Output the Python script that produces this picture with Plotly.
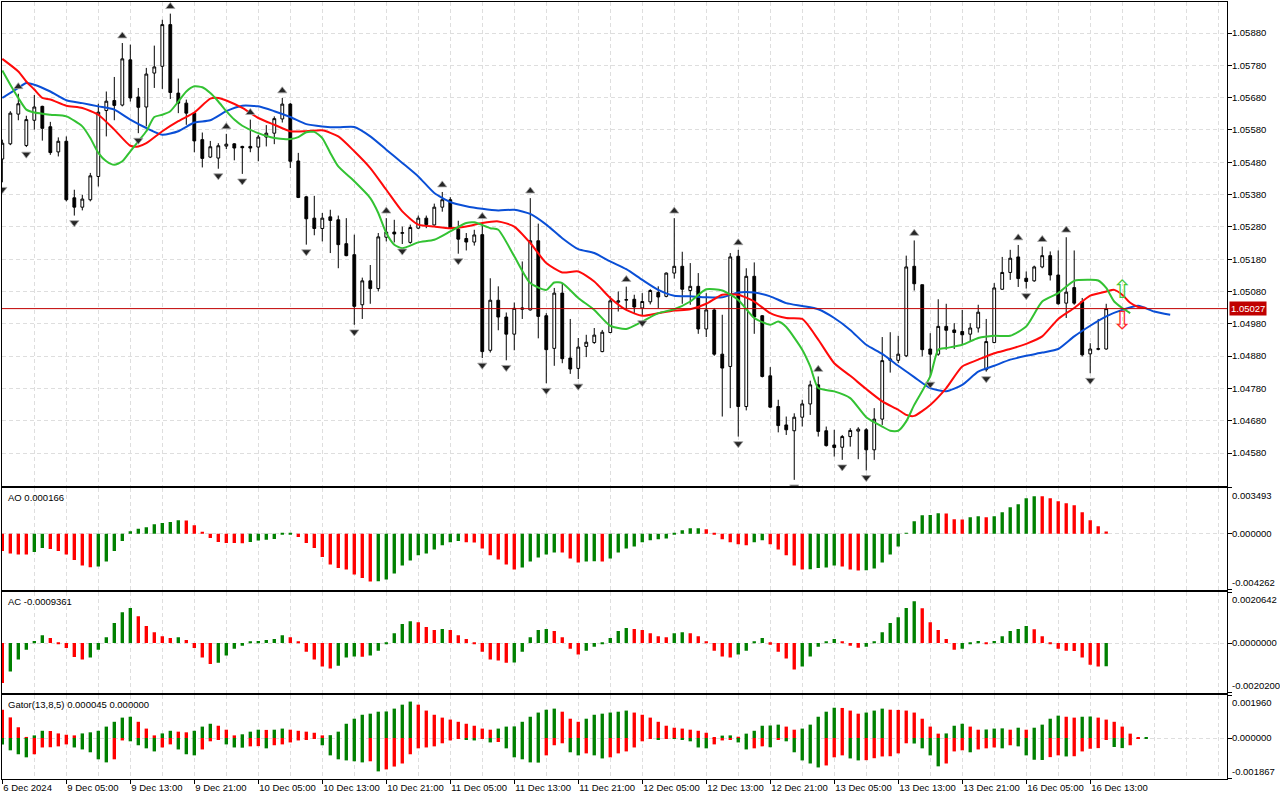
import plotly.graph_objects as go
from plotly.subplots import make_subplots

# ---- EURUSD H1, bars 0..138 (6 Dec 21:00 .. 16 Dec) ----
open_ = [
    1.05490, 1.05537, 1.05629, 1.05532, 1.05610, 1.05653, 1.05590, 1.05512, 1.05545, 1.05370,
    1.05341, 1.05364, 1.05436, 1.05640, 1.05671, 1.05657, 1.05797, 1.05682, 1.05651, 1.05756,
    1.05777, 1.05906, 1.05694, 1.05663, 1.05632, 1.05550, 1.05496, 1.05493, 1.05530, 1.05537,
    1.05529, 1.05529, 1.05527, 1.05558, 1.05570, 1.05614, 1.05660, 1.05484, 1.05373, 1.05307,
    1.05275, 1.05311, 1.05302, 1.05228, 1.05194, 1.05039, 1.05113, 1.05089, 1.05248, 1.05264,
    1.05260, 1.05232, 1.05276, 1.05307, 1.05286, 1.05341, 1.05364, 1.05273, 1.05244, 1.05233,
    1.05256, 1.04898, 1.05053, 1.05001, 1.04948, 1.05025, 1.05023, 1.05237, 1.05005, 1.04904,
    1.05075, 1.04874, 1.04842, 1.04910, 1.04922, 1.04894, 1.04953, 1.05047, 1.05053, 1.05056,
    1.05029, 1.05048, 1.05077, 1.05065, 1.05137, 1.05158, 1.05083, 1.05096, 1.04964, 1.05023,
    1.04886, 1.04848, 1.05189, 1.04724, 1.05127, 1.05005, 1.04819, 1.04724, 1.04667, 1.04649,
    1.04691, 1.04732, 1.04791, 1.04649, 1.04605, 1.04598, 1.04631, 1.04648, 1.04652, 1.04590,
    1.04685, 1.04867, 1.04867, 1.04881, 1.05158, 1.05101, 1.04902, 1.04886, 1.04972, 1.04961,
    1.04956, 1.04948, 1.04967, 1.04838, 1.04922, 1.05087, 1.05139, 1.05187, 1.05121, 1.05113,
    1.05156, 1.05191, 1.05131, 1.05044, 1.05092, 1.05049, 1.04887, 1.04901, 1.04902,
]
high = [
    1.05550, 1.05638, 1.05692, 1.05624, 1.05688, 1.05655, 1.05605, 1.05557, 1.05560, 1.05395,
    1.05379, 1.05447, 1.05661, 1.05699, 1.05744, 1.05849, 1.05844, 1.05710, 1.05772, 1.05841,
    1.05921, 1.05940, 1.05739, 1.05674, 1.05634, 1.05572, 1.05546, 1.05539, 1.05568, 1.05539,
    1.05531, 1.05612, 1.05565, 1.05595, 1.05622, 1.05679, 1.05663, 1.05509, 1.05376, 1.05376,
    1.05323, 1.05333, 1.05315, 1.05307, 1.05256, 1.05123, 1.05162, 1.05261, 1.05307, 1.05302,
    1.05281, 1.05287, 1.05315, 1.05315, 1.05352, 1.05388, 1.05372, 1.05299, 1.05261, 1.05271,
    1.05290, 1.05121, 1.05096, 1.05015, 1.05046, 1.05173, 1.05369, 1.05290, 1.05013, 1.05091,
    1.05106, 1.04995, 1.04936, 1.04946, 1.04967, 1.04961, 1.05065, 1.05080, 1.05095, 1.05070,
    1.05075, 1.05087, 1.05096, 1.05139, 1.05307, 1.05203, 1.05168, 1.05137, 1.05075, 1.05029,
    1.05008, 1.05199, 1.05209, 1.05152, 1.05170, 1.05007, 1.04846, 1.04745, 1.04693, 1.04703,
    1.04745, 1.04804, 1.04817, 1.04662, 1.04652, 1.04636, 1.04657, 1.04660, 1.04657, 1.04719,
    1.04939, 1.04954, 1.04943, 1.05191, 1.05238, 1.05101, 1.04951, 1.05056, 1.05042, 1.04982,
    1.05023, 1.04982, 1.05039, 1.04995, 1.05106, 1.05187, 1.05209, 1.05224, 1.05142, 1.05160,
    1.05219, 1.05204, 1.05207, 1.05248, 1.05207, 1.05060, 1.04920, 1.04995, 1.05042,
]
low = [
    1.05418, 1.05533, 1.05610, 1.05527, 1.05581, 1.05547, 1.05503, 1.05498, 1.05359, 1.05315,
    1.05331, 1.05359, 1.05405, 1.05560, 1.05610, 1.05653, 1.05668, 1.05570, 1.05591, 1.05710,
    1.05707, 1.05676, 1.05632, 1.05596, 1.05511, 1.05464, 1.05493, 1.05460, 1.05521, 1.05486,
    1.05444, 1.05511, 1.05483, 1.05529, 1.05536, 1.05603, 1.05462, 1.05369, 1.05225, 1.05254,
    1.05235, 1.05199, 1.05152, 1.05189, 1.04977, 1.04995, 1.05042, 1.05080, 1.05235, 1.05232,
    1.05227, 1.05228, 1.05274, 1.05276, 1.05284, 1.05327, 1.05273, 1.05197, 1.05207, 1.05222,
    1.04874, 1.04891, 1.04960, 1.04867, 1.04898, 1.04995, 1.05021, 1.04935, 1.04796, 1.04850,
    1.04858, 1.04825, 1.04809, 1.04877, 1.04918, 1.04892, 1.04951, 1.05018, 1.05023, 1.05013,
    1.05005, 1.05040, 1.05029, 1.05062, 1.05120, 1.05042, 1.05039, 1.04949, 1.04939, 1.04881,
    1.04693, 1.04719, 1.04631, 1.04712, 1.04949, 1.04814, 1.04720, 1.04644, 1.04636, 1.04497,
    1.04662, 1.04698, 1.04631, 1.04600, 1.04569, 1.04559, 1.04600, 1.04561, 1.04526, 1.04559,
    1.04667, 1.04829, 1.04858, 1.04877, 1.05083, 1.04879, 1.04815, 1.04881, 1.04900, 1.04902,
    1.04915, 1.04925, 1.04953, 1.04832, 1.04920, 1.05085, 1.05116, 1.05094, 1.05089, 1.05110,
    1.05152, 1.05114, 1.05039, 1.04998, 1.05039, 1.04879, 1.04827, 1.04898, 1.04900,
]
close = [
    1.05539, 1.05632, 1.05661, 1.05612, 1.05651, 1.05585, 1.05510, 1.05545, 1.05364, 1.05341,
    1.05366, 1.05438, 1.05635, 1.05669, 1.05656, 1.05800, 1.05679, 1.05650, 1.05753, 1.05775,
    1.05906, 1.05696, 1.05663, 1.05632, 1.05546, 1.05492, 1.05528, 1.05531, 1.05536, 1.05524,
    1.05525, 1.05524, 1.05558, 1.05570, 1.05615, 1.05660, 1.05483, 1.05371, 1.05305, 1.05275,
    1.05307, 1.05300, 1.05225, 1.05191, 1.05034, 1.05113, 1.05089, 1.05249, 1.05264, 1.05258,
    1.05262, 1.05278, 1.05307, 1.05287, 1.05341, 1.05364, 1.05276, 1.05242, 1.05233, 1.05255,
    1.04894, 1.05053, 1.05001, 1.04948, 1.05028, 1.05029, 1.05237, 1.05003, 1.04900, 1.05075,
    1.04872, 1.04840, 1.04908, 1.04923, 1.04945, 1.04954, 1.05051, 1.05051, 1.05055, 1.05032,
    1.05049, 1.05083, 1.05063, 1.05137, 1.05158, 1.05087, 1.05096, 1.04964, 1.05023, 1.04886,
    1.04843, 1.05187, 1.04724, 1.05127, 1.05001, 1.04817, 1.04722, 1.04665, 1.04652, 1.04691,
    1.04732, 1.04791, 1.04647, 1.04603, 1.04597, 1.04631, 1.04650, 1.04654, 1.04590, 1.04685,
    1.04866, 1.04871, 1.04886, 1.05156, 1.05104, 1.04900, 1.04886, 1.04972, 1.04960, 1.04953,
    1.04946, 1.04967, 1.05016, 1.04925, 1.05091, 1.05139, 1.05183, 1.05120, 1.05111, 1.05156,
    1.05191, 1.05131, 1.05042, 1.05078, 1.05044, 1.04884, 1.04902, 1.04903, 1.05027,
]

time_labels = [
    "6 Dec 2024", "9 Dec 05:00", "9 Dec 13:00", "9 Dec 21:00", "10 Dec 05:00",
    "10 Dec 13:00", "10 Dec 21:00", "11 Dec 05:00", "11 Dec 13:00", "11 Dec 21:00",
    "12 Dec 05:00", "12 Dec 13:00", "12 Dec 21:00", "13 Dec 05:00", "13 Dec 13:00",
    "13 Dec 21:00", "16 Dec 05:00", "16 Dec 13:00",
]
price_ticks = [1.04580, 1.04680, 1.04780, 1.04880, 1.04980, 1.05080, 1.05180,
               1.05280, 1.05380, 1.05480, 1.05580, 1.05680, 1.05780, 1.05880]
last_price = 1.05027

# Alligator (shifted lines, read every couple of bars)
jaw_x = [0, 2, 3, 4, 6, 8, 10, 12, 14, 16, 18, 20, 22, 24, 26, 28, 30, 32, 34, 36, 38, 40, 42,
         44, 46, 48, 50, 52, 54, 56, 58, 60, 62, 64, 66, 68, 70, 72, 74, 76, 78, 80, 82, 84, 86,
         88, 90, 92, 94, 96, 98, 100, 102, 104, 106, 108, 110, 112, 114, 116, 118, 120, 122,
         124, 126, 128, 130, 132, 134, 136, 138, 140, 142, 144, 146]
jaw_y = [1.05679, 1.05710, 1.05725, 1.05720, 1.05699,
         1.05672, 1.05663, 1.05653, 1.05643, 1.05612,
         1.05586, 1.05565, 1.05576, 1.05603, 1.05610,
         1.05638, 1.05655, 1.05653, 1.05638, 1.05620,
         1.05598, 1.05591, 1.05588, 1.05589, 1.05560,
         1.05519, 1.05478,
         1.05436, 1.05385, 1.05357, 1.05344, 1.05336,
         1.05331, 1.05333, 1.05320, 1.05287, 1.05245,
         1.05211, 1.05199, 1.05173, 1.05149, 1.05116,
         1.05085, 1.05067, 1.05065, 1.05062, 1.05062,
         1.05077, 1.05077, 1.05065, 1.05044, 1.05035,
         1.05025, 1.04998, 1.04961, 1.04915, 1.04887,
         1.04850, 1.04815, 1.04781, 1.04771, 1.04791,
         1.04832, 1.04850, 1.04869, 1.04881, 1.04891,
         1.04902, 1.04941, 1.04974, 1.05003, 1.05023,
         1.05036, 1.05018, 1.05008]
teeth_x = [0, 2, 3, 4, 5, 6, 8, 10, 12, 14, 16, 17, 18, 20, 22, 24, 26, 27, 28, 30, 32, 34, 36,
           38, 40, 42, 44, 46, 48, 50, 52, 54, 56, 58, 60, 62, 64, 66, 68, 70, 72, 74, 76, 78,
           80, 82, 84, 86, 88, 90, 92, 94, 96, 98, 100, 102, 104, 106, 108, 110, 112, 113, 114,
           116, 118, 120, 122, 124, 126, 128, 130, 132, 134, 136, 138, 139, 140, 141, 142, 143]
teeth_y = [1.05800, 1.05761, 1.05730, 1.05705, 1.05679, 1.05674,
           1.05655, 1.05648, 1.05627, 1.05581, 1.05531,
           1.05529, 1.05539, 1.05576, 1.05607, 1.05634,
           1.05677, 1.05679, 1.05671, 1.05648, 1.05617,
           1.05596, 1.05576, 1.05576, 1.05579, 1.05560,
           1.05514, 1.05462, 1.05395, 1.05328, 1.05287,
           1.05281, 1.05276, 1.05281, 1.05292, 1.05297,
           1.05281, 1.05230, 1.05168, 1.05139, 1.05142,
           1.05111, 1.05060, 1.05023, 1.05005, 1.05013,
           1.05021, 1.05025, 1.05042, 1.05070, 1.05070,
           1.05049, 1.05013, 1.04998, 1.04995, 1.04931,
           1.04858, 1.04819, 1.04778, 1.04740, 1.04714,
           1.04698, 1.04695, 1.04729, 1.04781, 1.04848,
           1.04869, 1.04889, 1.04902, 1.04918, 1.04941,
           1.04995, 1.05029, 1.05067, 1.05080, 1.05085,
           1.05070, 1.05045, 1.05032, 1.05029]
lips_x = [0, 1, 2, 3, 4, 6, 8, 10, 11, 12, 13, 14, 15, 16, 17, 18, 19, 20, 21, 22, 23, 24, 25,
          26, 27, 28, 29, 30, 32, 34, 36, 37, 38, 39, 40, 41, 42, 44, 46, 47, 48, 49, 50, 52, 54,
          56, 58, 59, 61, 62, 64, 66, 68, 69, 70, 72, 74, 76, 78, 80, 82, 84, 86, 88, 90, 92, 94,
          96, 97, 98, 100, 101, 102, 104, 106, 108, 110, 111, 112, 113, 114, 116, 117, 118, 120,
          122, 124, 126, 128, 130, 132, 134, 136, 137, 138, 139, 140, 141]
lips_y = [1.05764, 1.05720, 1.05679, 1.05643, 1.05634,
          1.05627, 1.05622, 1.05591, 1.05555, 1.05509,
          1.05483, 1.05472, 1.05483, 1.05514, 1.05545,
          1.05576, 1.05620, 1.05627, 1.05638, 1.05668,
          1.05699, 1.05715, 1.05712, 1.05694, 1.05668,
          1.05638, 1.05612, 1.05593, 1.05570, 1.05555,
          1.05552, 1.05558, 1.05573, 1.05574, 1.05555,
          1.05509, 1.05467, 1.05421, 1.05369, 1.05323,
          1.05261, 1.05225, 1.05214, 1.05232, 1.05240,
          1.05266, 1.05292, 1.05294, 1.05276, 1.05271,
          1.05189, 1.05106, 1.05085, 1.05108, 1.05106,
          1.05060, 1.05023, 1.04974, 1.04964, 1.04987,
          1.05013, 1.05025, 1.05049, 1.05087, 1.05083,
          1.05054, 1.04998, 1.04977, 1.04987, 1.04970,
          1.04900, 1.04848, 1.04781, 1.04771, 1.04750,
          1.04691, 1.04662, 1.04649, 1.04649, 1.04678,
          1.04729, 1.04817, 1.04900, 1.04905, 1.04915,
          1.04936, 1.04943, 1.04943, 1.04972, 1.05049,
          1.05075, 1.05113, 1.05116, 1.05114, 1.05091,
          1.05049, 1.05029, 1.05013]

fractal_up = [2, 15, 21, 28, 31, 35, 48, 55, 60, 66, 78, 84, 92, 102, 114, 127, 130, 133]
fractal_down = [0, 3, 9, 17, 27, 30, 38, 44, 50, 57, 60, 63, 68, 72, 80, 92, 99, 105, 108,
                116, 123, 128, 136]

signal_bar = [140]
signal_buy = [1.05078]
signal_sell = [1.04983]

ao = [
    -0.00132, -0.00150, -0.00158, -0.00159, -0.00140, -0.00109, -0.00117, -0.00132, -0.00158, -0.00201,
    -0.00242, -0.00255, -0.00249, -0.00211, -0.00132, -0.00056, 0.00018, 0.00038, 0.00048, 0.00071,
    0.00081, 0.00089, 0.00102, 0.00100, 0.00064, 0.00008, -0.00033, -0.00064, -0.00071, -0.00072,
    -0.00073, -0.00064, -0.00053, -0.00046, -0.00041, -0.00008, -0.00006, -0.00025, -0.00071, -0.00109,
    -0.00178, -0.00234, -0.00262, -0.00272, -0.00310, -0.00338, -0.00364, -0.00362, -0.00349, -0.00303,
    -0.00242, -0.00204, -0.00165, -0.00150, -0.00120, -0.00089, -0.00066, -0.00056, -0.00066, -0.00067,
    -0.00112, -0.00165, -0.00196, -0.00234, -0.00272, -0.00257, -0.00211, -0.00181, -0.00158, -0.00143,
    -0.00144, -0.00188, -0.00219, -0.00211, -0.00209, -0.00212, -0.00188, -0.00143, -0.00112, -0.00097,
    -0.00066, -0.00051, -0.00043, -0.00036, -0.00005, 0.00025, 0.00041, 0.00042, 0.00033, -0.00005,
    -0.00043, -0.00066, -0.00081, -0.00089, -0.00066, -0.00051, -0.00081, -0.00120, -0.00165, -0.00242,
    -0.00272, -0.00271, -0.00262, -0.00257, -0.00242, -0.00249, -0.00272, -0.00280, -0.00279, -0.00265,
    -0.00219, -0.00158, -0.00097, 0.00005, 0.00094, 0.00140, 0.00141, 0.00155, 0.00154, 0.00109,
    0.00108, 0.00125, 0.00132, 0.00124, 0.00133, 0.00163, 0.00201, 0.00224, 0.00270, 0.00285,
    0.00284, 0.00270, 0.00247, 0.00232, 0.00216, 0.00163, 0.00102, 0.00056, 0.00017,
]
ac = [
    -0.00163, -0.00116, -0.00067, -0.00027, 0.00008, 0.00032, 0.00020, -0.00003, -0.00020, -0.00057,
    -0.00067, -0.00059, -0.00027, 0.00024, 0.00081, 0.00125, 0.00142, 0.00109, 0.00069, 0.00044,
    0.00028, 0.00020, 0.00024, 0.00012, -0.00020, -0.00059, -0.00085, -0.00080, -0.00051, -0.00023,
    -0.00011, 0.00005, 0.00008, 0.00012, 0.00016, 0.00032, 0.00024, 0.00004, -0.00035, -0.00067,
    -0.00096, -0.00104, -0.00092, -0.00059, -0.00055, -0.00056, -0.00051, -0.00031, -0.00003, 0.00040,
    0.00077, 0.00089, 0.00085, 0.00065, 0.00053, 0.00057, 0.00053, 0.00032, 0.00016, -0.00003,
    -0.00035, -0.00067, -0.00071, -0.00080, -0.00079, -0.00035, 0.00024, 0.00053, 0.00057, 0.00049,
    0.00024, -0.00023, -0.00047, -0.00031, -0.00015, -0.00003, 0.00020, 0.00049, 0.00061, 0.00057,
    0.00053, 0.00040, 0.00028, 0.00024, 0.00040, 0.00044, 0.00040, 0.00028, 0.00004, -0.00031,
    -0.00055, -0.00059, -0.00047, -0.00031, 0.00004, 0.00020, -0.00007, -0.00035, -0.00063, -0.00108,
    -0.00096, -0.00055, -0.00015, 0.00004, 0.00016, 0.00004, -0.00011, -0.00019, -0.00015, 0.00004,
    0.00044, 0.00081, 0.00105, 0.00142, 0.00170, 0.00141, 0.00085, 0.00053, 0.00016, -0.00027,
    -0.00023, -0.00003, 0.00008, -0.00003, 0.00008, 0.00028, 0.00049, 0.00057, 0.00069, 0.00056,
    0.00028, -0.00003, -0.00023, -0.00031, -0.00032, -0.00059, -0.00088, -0.00096, -0.00094,
]
gator_up = [
    0.00129, 0.00094, 0.00049, 0.00005, 0.00012, 0.00033, 0.00032, 0.00021, 0.00015, 0.00012,
    0.00021, 0.00026, 0.00033, 0.00052, 0.00074, 0.00093, 0.00097, 0.00074, 0.00043, 0.00012,
    0.00021, 0.00033, 0.00029, 0.00026, 0.00033, 0.00052, 0.00065, 0.00056, 0.00038, 0.00012,
    0.00017, 0.00029, 0.00038, 0.00037, 0.00038, 0.00043, 0.00038, 0.00033, 0.00029, 0.00024,
    0.00012, 0.00013, 0.00029, 0.00065, 0.00088, 0.00106, 0.00111, 0.00120, 0.00121, 0.00134,
    0.00152, 0.00166, 0.00152, 0.00125, 0.00106, 0.00093, 0.00084, 0.00074, 0.00065, 0.00056,
    0.00043, 0.00038, 0.00043, 0.00052, 0.00053, 0.00074, 0.00097, 0.00116, 0.00129, 0.00134,
    0.00120, 0.00088, 0.00074, 0.00088, 0.00106, 0.00111, 0.00116, 0.00120, 0.00125, 0.00116,
    0.00106, 0.00093, 0.00074, 0.00056, 0.00047, 0.00043, 0.00038, 0.00033, 0.00024, 0.00002,
    0.00011, 0.00012, 0.00006, 0.00020, 0.00033, 0.00056, 0.00057, 0.00061, 0.00052, 0.00038,
    0.00043, 0.00061, 0.00097, 0.00120, 0.00138, 0.00137, 0.00125, 0.00111, 0.00116, 0.00125,
    0.00134, 0.00129, 0.00128, 0.00125, 0.00116, 0.00088, 0.00052, 0.00020, 0.00021, 0.00056,
    0.00065, 0.00052, 0.00038, 0.00039, 0.00043, 0.00044, 0.00038, 0.00047, 0.00038, 0.00047,
    0.00061, 0.00088, 0.00102, 0.00097, 0.00093, 0.00097, 0.00098, 0.00093, 0.00084, 0.00074,
    0.00052, 0.00020, 0.00002, 0.000045,
]
gator_down = [
    -0.00030, -0.00056, -0.00074, -0.00088, -0.00074, -0.00043, -0.00042, -0.00038, -0.00029, -0.00043,
    -0.00052, -0.00065, -0.00097, -0.00111, -0.00097, -0.00011, -0.00015, -0.00033, -0.00047, -0.00061,
    -0.00043, -0.00029, -0.00052, -0.00074, -0.00079, -0.00052, -0.00015, -0.00006, -0.00029, -0.00043,
    -0.00044, -0.00038, -0.00037, -0.00047, -0.00033, -0.00029, -0.00020, -0.00011, -0.00005, -0.00002,
    -0.00033, -0.00079, -0.00097, -0.00102, -0.00106, -0.00111, -0.00106, -0.00152, -0.00143, -0.00130,
    -0.00116, -0.00074, -0.00047, -0.00043, -0.00038, -0.00024, -0.00011, -0.00003, -0.00008, -0.00011,
    -0.00003, -0.00020, -0.00018, -0.00047, -0.00088, -0.00097, -0.00111, -0.00112, -0.00079, -0.00033,
    -0.00024, -0.00065, -0.00079, -0.00070, -0.00079, -0.00093, -0.00088, -0.00070, -0.00061, -0.00043,
    -0.00015, -0.00003, -0.00005, -0.00002, -0.00003, -0.00006, -0.00015, -0.00043, -0.00047, -0.00029,
    -0.00011, -0.00006, -0.00020, -0.00052, -0.00047, -0.00038, -0.00042, -0.00009, -0.00015, -0.00065,
    -0.00102, -0.00116, -0.00134, -0.00125, -0.00088, -0.00079, -0.00093, -0.00102, -0.00101, -0.00092,
    -0.00084, -0.00083, -0.00070, -0.00024, -0.00025, -0.00047, -0.00079, -0.00129, -0.00116, -0.00061,
    -0.00056, -0.00065, -0.00052, -0.00047, -0.00043, -0.00047, -0.00033, -0.00038, -0.00079, -0.00099,
    -0.00100, -0.00087, -0.00079, -0.00084, -0.00083, -0.00061, -0.00049, -0.00046, -0.00008, -0.00041,
    -0.00046, -0.00033, -0.00002,
]

# pane scales as shown by the terminal
ao_range = [-0.004262, 0.003493]
ac_range = [-0.0020200, 0.0020642]
gator_range = [-0.001867, 0.001960]

GREEN = "#008000"
RED = "#ff0000"
GRID = "#dedede"
FONT = "Liberation Sans"
FRACTAL_GAP = 0.00022


def trend_colors(values, first, up_is_green=True):
    colors = [first]
    for prev, cur in zip(values, values[1:]):
        if cur == prev:
            colors.append(colors[-1])
        elif (cur > prev) == up_is_green:
            colors.append(GREEN)
        else:
            colors.append(RED)
    return colors


bars = list(range(len(close)))

fig = make_subplots(rows=4, cols=1, shared_xaxes=True, vertical_spacing=0)

fig.add_trace(go.Candlestick(
    x=bars, open=open_, high=high, low=low, close=close,
    increasing=dict(fillcolor="white", line=dict(color="black", width=1)),
    decreasing=dict(fillcolor="black", line=dict(color="black", width=1)),
    whiskerwidth=0, showlegend=False,
), row=1, col=1)

for xs, ys, color in [(jaw_x, jaw_y, "#0a4fd6"), (teeth_x, teeth_y, "#ff0a0a"),
                      (lips_x, lips_y, "#33c233")]:
    fig.add_trace(go.Scatter(x=xs, y=ys, mode="lines",
                             line=dict(color=color, width=2, shape="spline", smoothing=0.6),
                             showlegend=False), row=1, col=1)

fractal_marker = dict(size=8, color="#262626", line=dict(color="#a8a8a8", width=0.8))
fig.add_trace(go.Scatter(
    x=fractal_up, y=[high[i] + FRACTAL_GAP for i in fractal_up], mode="markers",
    marker=dict(symbol="triangle-up", **fractal_marker), showlegend=False), row=1, col=1)
fig.add_trace(go.Scatter(
    x=fractal_down, y=[low[i] - FRACTAL_GAP for i in fractal_down], mode="markers",
    marker=dict(symbol="triangle-down", **fractal_marker), showlegend=False), row=1, col=1)

fig.add_trace(go.Scatter(x=signal_bar, y=signal_buy, mode="text", text=["\u21e7"],
                         textfont=dict(family="DejaVu Sans", size=25, color="#44c83a"),
                         showlegend=False), row=1, col=1)
fig.add_trace(go.Scatter(x=signal_bar, y=signal_sell, mode="text", text=["\u21e9"],
                         textfont=dict(family="DejaVu Sans", size=25, color="#ff2a2a"),
                         showlegend=False), row=1, col=1)

fig.add_hline(y=last_price, line=dict(color="#c00000", width=1), row=1, col=1)

fig.add_trace(go.Bar(x=bars, y=ao, width=0.42, marker=dict(color=trend_colors(ao, RED), line_width=0),
                     showlegend=False), row=2, col=1)
fig.add_trace(go.Bar(x=bars, y=ac, width=0.42, marker=dict(color=trend_colors(ac, RED), line_width=0),
                     showlegend=False), row=3, col=1)
fig.add_trace(go.Bar(x=list(range(len(gator_up))), y=gator_up, width=0.42,
                     marker=dict(color=trend_colors(gator_up, RED), line_width=0),
                     showlegend=False), row=4, col=1)
fig.add_trace(go.Bar(x=list(range(len(gator_down))), y=gator_down, width=0.42,
                     marker=dict(color=trend_colors(gator_down, GREEN, up_is_green=False), line_width=0),
                     showlegend=False), row=4, col=1)

x_range = [-0.04, 153.1]
label_bars = list(range(0, len(close), 8))
for r in range(1, 5):
    fig.update_xaxes(
        row=r, col=1, range=x_range, rangeslider_visible=False, automargin=False,
        tickmode="array", tickvals=label_bars, ticktext=time_labels, tickangle=0,
        showgrid=True, gridcolor=GRID, griddash="4px,3px", gridwidth=1,
        minor=dict(tickmode="linear", tick0=0, dtick=4, showgrid=True, gridcolor=GRID,
                   griddash="4px,3px"),
        showline=True, mirror=True, linecolor="black", linewidth=1, zeroline=False,
        ticks="outside" if r == 4 else "", ticklen=4, tickcolor="black",
        showticklabels=(r == 4),
    )
fig.update_xaxes(row=4, col=1, ticklabelposition="outside right",
                 tickfont=dict(family=FONT, size=9.5, color="black"))

axis_common = dict(side="right", showline=True, mirror=True, linecolor="black", linewidth=1,
                   ticks="outside", ticklen=4, tickcolor="black", zeroline=False,
                   showgrid=True, gridcolor=GRID, griddash="4px,3px", automargin=False,
                   ticklabelstandoff=-2,
                   tickfont=dict(family=FONT, size=9.5, color="black"))
fig.update_layout(
    yaxis=dict(domain=[0.3775, 1.0], range=[1.04479, 1.05976], tickvals=price_ticks,
               tickformat=".5f", **axis_common),
    yaxis2=dict(domain=[0.2436, 0.3749], range=ao_range, tickvals=[ao_range[1], 0, ao_range[0]],
                ticktext=["", "0.000000", ""], **axis_common),
    yaxis3=dict(domain=[0.1111, 0.2403], range=ac_range, tickvals=[ac_range[1], 0, ac_range[0]],
                ticktext=["", "0.0000000", ""], **axis_common),
    yaxis4=dict(domain=[0.0, 0.1081], range=gator_range,
                tickvals=[gator_range[1], 0, gator_range[0]],
                ticktext=["", "0.000000", ""], **axis_common),
)

notes = [
    ("y2", "AO 0.000166", "0.003493", "-0.004262"),
    ("y3", "AC -0.0009361", "0.0020642", "-0.0020200"),
    ("y4", "Gator(13,8,5) 0.000045 0.000000", "0.001960", "-0.001867"),
]
annotations = []
for yref, title, top_txt, bottom_txt in notes:
    annotations.append(dict(x=0, xref="paper", xanchor="left", xshift=4,
                            y=1, yref=yref + " domain", yanchor="top", yshift=-2,
                            text=title, showarrow=False,
                            font=dict(family=FONT, size=9.5, color="black")))
    annotations.append(dict(x=1, xref="paper", xanchor="left", xshift=3,
                            y=1, yref=yref + " domain", yanchor="top",
                            text=top_txt, showarrow=False,
                            font=dict(family=FONT, size=9.5, color="black")))
    annotations.append(dict(x=1, xref="paper", xanchor="left", xshift=3,
                            y=0, yref=yref + " domain", yanchor="bottom",
                            text=bottom_txt, showarrow=False,
                            font=dict(family=FONT, size=9.5, color="black")))
annotations.append(dict(x=1, xref="paper", xanchor="left", xshift=2, y=last_price, yref="y",
                        text=f"{last_price:.5f}", showarrow=False, bgcolor="#c00000",
                        borderpad=1, font=dict(family=FONT, size=9.5, color="white")))

fig.update_layout(
    width=1280, height=800,
    margin=dict(l=2, r=53, t=2, b=21, autoexpand=False),
    paper_bgcolor="white", plot_bgcolor="white",
    barmode="overlay", boxgap=0.5, hovermode=False,
    showlegend=False, annotations=annotations,
    font=dict(family=FONT, size=9.5, color="black"),
)

# the page's default body margin would shift the chart by 8px
fig.write_html("out.html", config={"displayModeBar": False},
               post_script="document.body.style.margin='0';")
